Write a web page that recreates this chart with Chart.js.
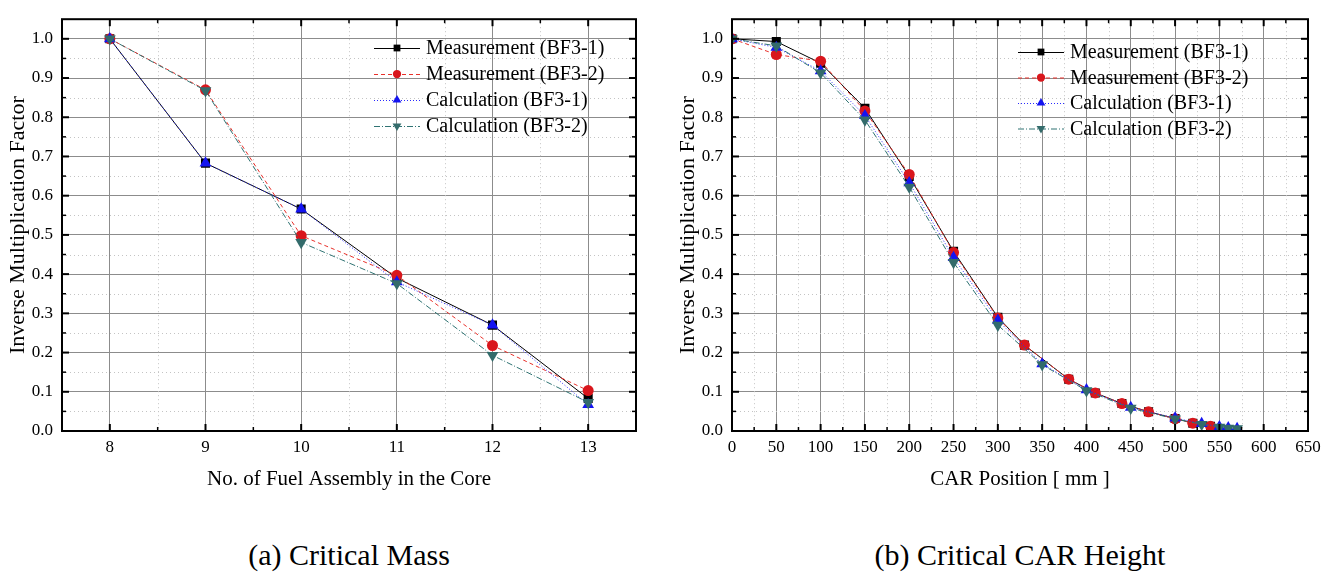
<!DOCTYPE html>
<html>
<head>
<meta charset="utf-8">
<script src="https://cdn.jsdelivr.net/npm/chart.js@4.4.1/dist/chart.umd.min.js"></script>
<style>
  html, body { margin: 0; padding: 0; background: #fff; }
  body { width: 1334px; height: 579px; position: relative; overflow: hidden; font-family: 'Liberation Serif', 'Times New Roman', serif; }
  #c1 { position: absolute; left: 0; top: 0; }
  #c2 { position: absolute; left: 670px; top: 0; }
  .cap { position: absolute; top: 537px; font-size: 30px; line-height: 36px; color: #000; white-space: nowrap; transform: translateX(-50%); }
</style>
</head>
<body>
<canvas id="c1" width="660" height="500"></canvas>
<canvas id="c2" width="664" height="500"></canvas>
<div class="cap" style="left:349px">(a) Critical Mass</div>
<div class="cap" style="left:1020px">(b) Critical CAR Height</div>
<script>
// ---------------- DATA ----------------
const seriesNames = ['Measurement (BF3-1)', 'Measurement (BF3-2)', 'Calculation (BF3-1)', 'Calculation (BF3-2)'];

// (a) Critical Mass
const fuelAssemblies = [8, 9, 10, 11, 12, 13];
const massMeasBF31 = [1.0, 0.683, 0.566, 0.390, 0.270, 0.083];
const massMeasBF32 = [1.0, 0.870, 0.498, 0.397, 0.218, 0.103];
const massCalcBF31 = [1.0, 0.683, 0.566, 0.380, 0.270, 0.067];
const massCalcBF32 = [1.0, 0.868, 0.481, 0.376, 0.193, 0.073];
const massXTicks = [8, 9, 10, 11, 12, 13];

// (b) Critical CAR Height
const carMeasPos = [0, 50, 100, 150, 200, 250, 300, 330, 380, 410, 440, 470, 500, 520, 540];
const carMeasBF31 = [1.0, 0.993, 0.938, 0.823, 0.649, 0.458, 0.290, 0.219, 0.132, 0.097, 0.070, 0.049, 0.032, 0.020, 0.012];
const carMeasBF32 = [1.0, 0.960, 0.943, 0.816, 0.654, 0.455, 0.288, 0.219, 0.132, 0.097, 0.070, 0.049, 0.031, 0.020, 0.012];
const carCalcPos = [0, 50, 100, 150, 200, 250, 300, 350, 400, 450, 500, 530, 550, 560, 570];
const carCalcBF31 = [1.0, 0.978, 0.918, 0.804, 0.633, 0.442, 0.282, 0.171, 0.105, 0.060, 0.033, 0.019, 0.011, 0.008, 0.006];
const carCalcBF32 = [1.0, 0.982, 0.913, 0.793, 0.622, 0.430, 0.270, 0.169, 0.103, 0.058, 0.031, 0.017, 0.010, 0.0075, 0.006];
const carXTicks = [0, 50, 100, 150, 200, 250, 300, 350, 400, 450, 500, 550, 600, 650];

const yTicks = [0.0, 0.1, 0.2, 0.3, 0.4, 0.5, 0.6, 0.7, 0.8, 0.9, 1.0];

// ---------------- STYLES ----------------
const FONT = "'Liberation Serif', 'Times New Roman', serif";
Chart.defaults.font.family = FONT;
Chart.defaults.color = '#000';

const styles = [
  { color: '#000000', fill: '#000000', dash: [], style: 'rect', rotation: 0, radius: 6.4, order: 4 },
  { color: '#e8302a', fill: '#d9161c', dash: [4, 3], style: 'circle', rotation: 0, radius: 5.5, order: 3 },
  { color: '#2a2aff', fill: '#1414f0', dash: [1, 2], style: 'triangle', rotation: 0, radius: 6.8, order: 2 },
  { color: '#2f7373', fill: '#336b6b', dash: [6, 2, 1, 2], style: 'triangle', rotation: 180, radius: 6.8, order: 1 }
];

function makeDataset(i, xs, ys) {
  const s = styles[i];
  return {
    label: seriesNames[i],
    data: xs.map((x, k) => ({ x: x, y: ys[k] })),
    showLine: true,
    borderColor: s.color,
    backgroundColor: s.fill,
    borderWidth: 1,
    borderDash: s.dash,
    pointStyle: s.style,
    pointRotation: s.rotation,
    pointRadius: s.radius,
    pointBackgroundColor: s.fill,
    pointBorderColor: s.fill,
    pointBorderWidth: 0,
    order: s.order,
    tension: 0
  };
}

function midpoints(arr) {
  const out = [];
  for (let i = 0; i < arr.length - 1; i++) out.push((arr[i] + arr[i + 1]) / 2);
  return out;
}

const framePlugin = {
  id: 'frame',
  beforeDatasetsDraw(chart, args, opts) {
    const { ctx, chartArea: a, scales: { x, y } } = chart;
    ctx.save();
    ctx.strokeStyle = '#c4c4c4';
    ctx.lineWidth = 1;
    ctx.setLineDash([1, 3]);
    opts.xMinor.forEach(v => {
      const px = Math.round(x.getPixelForValue(v)) + 0.5;
      if (px < a.left + 2 || px > a.right - 2) return;
      ctx.beginPath(); ctx.moveTo(px, a.top); ctx.lineTo(px, a.bottom); ctx.stroke();
    });
    opts.yMinor.forEach(v => {
      const py = Math.round(y.getPixelForValue(v)) + 0.5;
      if (py < a.top + 2 || py > a.bottom - 2) return;
      ctx.beginPath(); ctx.moveTo(a.left, py); ctx.lineTo(a.right, py); ctx.stroke();
    });
    ctx.restore();
  },
  afterDraw(chart, args, opts) {
    const { ctx, chartArea: a, scales: { x, y } } = chart;
    ctx.save();
    ctx.strokeStyle = '#000';
    const tick = (vals, len, w) => {
      ctx.lineWidth = w;
      vals.x.forEach(v => {
        const px = x.getPixelForValue(v);
        if (px < a.left + 1 || px > a.right - 1) return;
        ctx.beginPath(); ctx.moveTo(px, a.bottom); ctx.lineTo(px, a.bottom - len); ctx.stroke();
        ctx.beginPath(); ctx.moveTo(px, a.top); ctx.lineTo(px, a.top + len); ctx.stroke();
      });
      vals.y.forEach(v => {
        const py = y.getPixelForValue(v);
        if (py < a.top + 1 || py > a.bottom - 1) return;
        ctx.beginPath(); ctx.moveTo(a.left, py); ctx.lineTo(a.left + len, py); ctx.stroke();
        ctx.beginPath(); ctx.moveTo(a.right, py); ctx.lineTo(a.right - len, py); ctx.stroke();
      });
    };
    tick({ x: opts.xMajor, y: opts.yMajor }, 7, 2);
    tick({ x: opts.xMinor, y: opts.yMinor }, 4, 1.5);
    ctx.lineWidth = 2;
    ctx.strokeRect(a.left, a.top, a.right - a.left, a.bottom - a.top);

    const L = opts.legend;
    chart.data.datasets.forEach((ds, i) => {
      const ly = L.y0 + i * L.dy;
      ctx.save();
      ctx.strokeStyle = ds.borderColor;
      ctx.lineWidth = 1;
      ctx.setLineDash(ds.borderDash);
      ctx.beginPath(); ctx.moveTo(L.x0, ly + 0.5); ctx.lineTo(L.x1, ly + 0.5); ctx.stroke();
      ctx.setLineDash([]);
      ctx.fillStyle = ds.pointBackgroundColor;
      ctx.strokeStyle = ds.pointBackgroundColor;
      Chart.helpers.drawPoint(ctx, { pointStyle: ds.pointStyle, rotation: ds.pointRotation, radius: ds.pointRadius * 0.75, borderWidth: 0 }, (L.x0 + L.x1) / 2, ly);
      ctx.restore();
      ctx.fillStyle = '#000';
      ctx.font = '20px ' + FONT;
      ctx.textBaseline = 'middle';
      ctx.textAlign = 'left';
      ctx.fillText(ds.label, L.tx, ly + 1);
    });
    ctx.restore();
  }
};

function makeChart(canvasId, datasets, xMin, xMax, xTickVals, xTitle, padRight, legend) {
  const step = xTickVals[1] - xTickVals[0];
  return new Chart(document.getElementById(canvasId), {
    type: 'scatter',
    data: { datasets: datasets },
    options: {
      responsive: false,
      animation: false,
      devicePixelRatio: 1,
      layout: { padding: { top: 7, right: padRight, left: 0, bottom: 0 } },
      plugins: {
        legend: { display: false },
        tooltip: { enabled: false },
        frame: {
          xMajor: xTickVals,
          xMinor: midpoints(xTickVals).concat([xTickVals[0] - step / 2, xTickVals[xTickVals.length - 1] + step / 2]),
          yMajor: yTicks,
          yMinor: midpoints(yTicks).concat([yTicks[yTicks.length - 1] + 0.05]),
          legend: legend
        }
      },
      scales: {
        x: {
          type: 'linear',
          min: xMin, max: xMax,
          afterBuildTicks: s => { s.ticks = xTickVals.map(v => ({ value: v })); },
          afterFit: s => { s.height = 69; },
          grid: { color: '#8c8c8c', lineWidth: 1, drawTicks: false },
          border: { display: false },
          ticks: { padding: 6, font: { size: 17 }, color: '#000', maxRotation: 0, autoSkip: false },
          title: { display: true, text: xTitle, font: { size: 21 }, color: '#000', padding: { top: 0, bottom: 8 } }
        },
        y: {
          type: 'linear',
          min: 0, max: 1.05,
          afterBuildTicks: s => { s.ticks = yTicks.map(v => ({ value: v })); },
          afterFit: s => { s.width = 62; },
          grid: { color: '#8c8c8c', lineWidth: 1, drawTicks: false },
          border: { display: false },
          ticks: { padding: 9, font: { size: 17 }, color: '#000', callback: v => Number(v).toFixed(1) },
          title: { display: true, text: 'Inverse Multiplication Factor', font: { size: 22 }, color: '#000', padding: { top: 5, bottom: 0 } }
        }
      }
    },
    plugins: [framePlugin]
  });
}

makeChart('c1', [
  makeDataset(0, fuelAssemblies, massMeasBF31),
  makeDataset(1, fuelAssemblies, massMeasBF32),
  makeDataset(2, fuelAssemblies, massCalcBF31),
  makeDataset(3, fuelAssemblies, massCalcBF32)
], 7.5, 13.5, massXTicks, 'No. of Fuel Assembly in the Core', 24,
  { x0: 374, x1: 420, tx: 426, y0: 48, dy: 26 });

makeChart('c2', [
  makeDataset(0, carMeasPos, carMeasBF31),
  makeDataset(1, carMeasPos, carMeasBF32),
  makeDataset(2, carCalcPos, carCalcBF31),
  makeDataset(3, carCalcPos, carCalcBF32)
], 0, 650, carXTicks, 'CAR Position [ mm ]', 26,
  { x0: 348, x1: 394, tx: 400, y0: 52, dy: 25.5 });
</script>
</body>
</html>
